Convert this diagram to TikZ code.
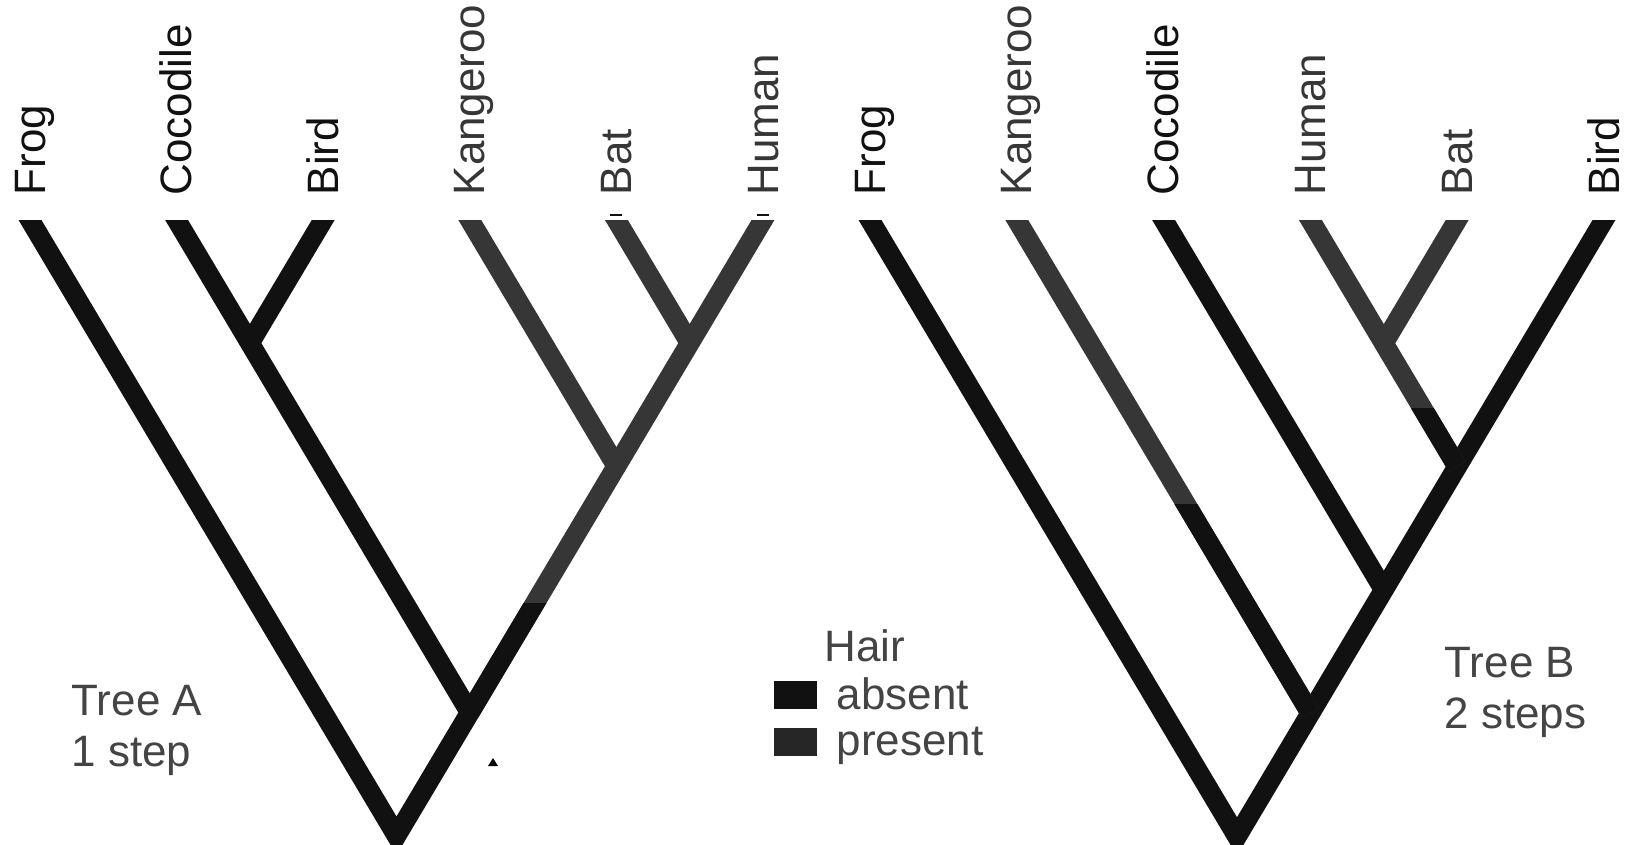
\documentclass[tikz,border=0pt]{standalone}
\usepackage{fontspec}
\setmainfont{Liberation Sans}
\usetikzlibrary{calc}
\definecolor{hairno}{HTML}{111111}
\definecolor{hairyes}{HTML}{363636}
\definecolor{capgray}{HTML}{444444}
\tikzset{
  branch/.style={line width=5.6pt},
  tipbranch/.style={branch, shorten <=-10pt},
  taxon/.style={rotate=90, anchor=base west, inner sep=0pt,
    font=\fontsize{12.5}{15}\selectfont},
  caption/.style={anchor=base west, inner sep=0pt, text=capgray,
    font=\fontsize{12.5}{15}\selectfont},
  tick/.style={line width=0.7pt, hairno}
}
\begin{document}
\begin{tikzpicture}[x=0.01cm, y=-0.01cm]
  \useasboundingbox (0,0) rectangle (1632,845);
  % tips and taxon names
  \foreach \t/\x/\c [count=\i] in {Frog/30/hairno, Cocodile/176.6/hairno,
      Bird/323.2/hairno, Kangeroo/469.8/hairyes, Bat/616.4/hairyes,
      Human/763/hairyes}{
    \coordinate (a\i) at (\x,220);
    \node[taxon, text=\c] (a\i lab) at (\x+15,196) {\t};
  }
  \foreach \t/\x/\c [count=\i] in {Frog/870/hairno, Kangeroo/1016.8/hairyes,
      Cocodile/1163.6/hairno, Human/1310.4/hairyes, Bat/1457.2/hairyes,
      Bird/1604/hairno}{
    \coordinate (b\i) at (\x,220);
    \node[taxon, text=\c] (b\i lab) at (\x+15,196) {\t};
  }
  % inner nodes of tree A
  \coordinate (aJcb) at (249.9,343.1);
  \coordinate (aJbh) at (689.7,343.1);
  \coordinate (aJkh) at (616.4,466.3);
  \coordinate (aJch) at (469.8,712.6);
  \coordinate (aRoot) at (396.5,835.7);
  % inner nodes of tree B
  \coordinate (bJhb) at (1383.8,343.3);
  \coordinate (bJhi) at (1457.2,466.6);
  \coordinate (bJci) at (1383.8,589.9);
  \coordinate (bJki) at (1310.4,713.2);
  \coordinate (bRoot) at (1237,836.5);

  \begin{scope}
    \clip (0,220) rectangle (1632,845);
    % tree A, hair gained on the branch below the Kangeroo split
    \draw[tipbranch, hairyes] (a6) -- (aJch);
    \begin{scope}
      \clip (0,220) -- (396,220) -- (396,603) -- (1632,603)
        -- (1632,845) -- (0,845) -- cycle;
      \draw[tipbranch, hairno, shorten >=-10pt] (a1) -- (aRoot) -- (a6);
    \end{scope}
    \draw[tipbranch, hairno] (a2) -- (aJch);
    \draw[tipbranch, hairno] (a3) -- (aJcb);
    \draw[tipbranch, hairyes] (a4) -- (aJkh);
    \draw[tipbranch, hairyes] (a5) -- (aJbh);
    % tree B, hair gained twice
    \draw[tipbranch, hairno, shorten >=-10pt] (b1) -- (bRoot) -- (b6);
    \draw[tipbranch, hairyes] (b2) -- (bJki);
    \begin{scope}
      \clip (0,504) rectangle (1632,845);
      \draw[tipbranch, hairno] (b2) -- (bJki);
    \end{scope}
    \draw[tipbranch, hairno] (b3) -- (bJci);
    \draw[tipbranch, hairyes] (b4) -- (bJhi);
    \begin{scope}
      \clip (0,408) rectangle (1632,845);
      \draw[tipbranch, hairno] (b4) -- (bJhi);
    \end{scope}
    \draw[tipbranch, hairyes] (b5) -- (bJhb);
  \end{scope}
  \draw[tick] ($(a5)+(-6,-5)$) -- ($(a5)+(6,-5)$);
  \draw[tick] ($(a6)+(-6,-5)$) -- ($(a6)+(6,-5)$);
  \fill[black] (488,766) -- (498,766) -- (493,758) -- cycle;

  % captions and legend
  \node[caption] (capA1) at (71,715) {Tree A};
  \node[caption] (capA2) at (71,766) {1 step};
  \node[caption] (capB1) at (1444,677) {Tree B};
  \node[caption] (capB2) at (1444,728) {2 steps};
  \node[caption] (hair) at (824,661) {Hair};
  \fill[hairno] (774,681) rectangle (817,709);
  \fill[black!85] (774,728) rectangle (817,756);
  \node[caption] (absent) at (836,709) {absent};
  \node[caption] (present) at (836,755) {present};
\end{tikzpicture}
\end{document}
